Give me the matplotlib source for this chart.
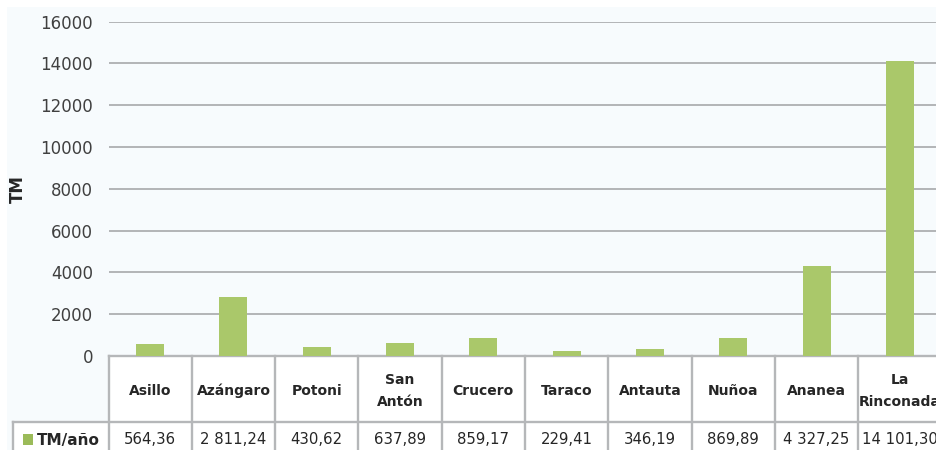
import matplotlib
matplotlib.use("Agg")
import matplotlib.pyplot as plt
from matplotlib.transforms import blended_transform_factory
from matplotlib.patches import Rectangle
from matplotlib.lines import Line2D

categories = ["Asillo", "Azángaro", "Potoni", "San\nAntón", "Crucero", "Taraco",
              "Antauta", "Nuñoa", "Ananea", "La\nRinconada"]
values = [564.36, 2811.24, 430.62, 637.89, 859.17, 229.41, 346.19, 869.89, 4327.25, 14101.30]
value_labels = ["564,36", "2 811,24", "430,62", "637,89", "859,17", "229,41",
                "346,19", "869,89", "4 327,25", "14 101,30"]
yticks = [0, 2000, 4000, 6000, 8000, 10000, 12000, 14000, 16000]
series_name = "TM/año"
ylabel = "TM"

W, H = 936, 450
bg = "#F7FBFD"
bar_color = "#AAC86A"
grid_color = "#B3B5B7"
table_color = "#B5B7B9"
text_color = "#262626"

fig = plt.figure(figsize=(W / 100, H / 100), dpi=100, facecolor="white")
fig.patches.append(Rectangle((7 / W, 0), 1, (H - 7) / H, transform=fig.transFigure,
                             facecolor=bg, edgecolor="none", zorder=-10))

ax_left, ax_right = 108.5, 941.5
ax_top, ax_bot = 21.7, 356
ax = fig.add_axes([ax_left / W, (H - ax_bot) / H, (ax_right - ax_left) / W, (ax_bot - ax_top) / H])
ax.set_facecolor(bg)
ax.patch.set_alpha(0)

x = list(range(len(categories)))
ax.bar(x, values, width=0.336, color=bar_color, zorder=3)
ax.set_xlim(-0.5, len(categories) - 0.5)
ax.set_ylim(0, 16000)
ax.set_yticks(yticks)
ax.set_yticklabels([str(t) for t in yticks], fontsize=12, color="#404040")
ax.tick_params(axis="y", length=0, pad=11)
ax.set_xticks([])
ax.grid(axis="y", color=grid_color, linewidth=1.4, zorder=0)
for s in ["top", "right", "left"]:
    ax.spines[s].set_visible(False)
ax.spines["bottom"].set_color(table_color)
ax.spines["bottom"].set_linewidth(1.7)
ax.set_ylabel(ylabel, fontsize=12, fontweight="bold", color=text_color)
ax.yaxis.set_label_coords(-(ax_left - 27) / (ax_right - ax_left), 0.5)

# table below the axes
tr = blended_transform_factory(ax.transData, fig.transFigure)
def fy(py):
    return (H - py) / H

row_sep = 421.7
left_cell = 13
fig.patches.append(Rectangle((ax_left / W, 0), (ax_right - ax_left) / W, fy(ax_bot),
                             transform=fig.transFigure, facecolor="white", edgecolor="none", zorder=-5))
fig.patches.append(Rectangle((left_cell / W, 0), (ax_left - left_cell) / W, fy(row_sep),
                             transform=fig.transFigure, facecolor="white", edgecolor="none", zorder=-5))

lw = 1.7
for i in range(len(categories) + 1):
    xb = i - 0.5
    fig.add_artist(Line2D([xb, xb], [fy(ax_bot), -0.05], transform=tr, color=table_color, lw=lw))
fig.add_artist(Line2D([left_cell / W, 1.01], [fy(row_sep), fy(row_sep)], transform=fig.transFigure,
                      color=table_color, lw=lw))
fig.add_artist(Line2D([left_cell / W, left_cell / W], [fy(row_sep), -0.05], transform=fig.transFigure,
                      color=table_color, lw=lw))

for xi, cat, vl in zip(x, categories, value_labels):
    fig.text(xi, fy(391), cat, transform=tr, ha="center", va="center", fontsize=10,
             fontweight="bold", color=text_color, linespacing=1.8)
    fig.text(xi, fy(440), vl, transform=tr, ha="center", va="center", fontsize=10.7,
             color=text_color)

fig.patches.append(Rectangle((22.5 / W, fy(445)), 10.5 / W, 11 / H, transform=fig.transFigure,
                             facecolor="#9BBB59", edgecolor="none"))
fig.text(36.5 / W, fy(440), series_name, ha="left", va="center", fontsize=11,
         fontweight="bold", color=text_color)

fig.savefig("out.png", dpi=100, facecolor="white")
